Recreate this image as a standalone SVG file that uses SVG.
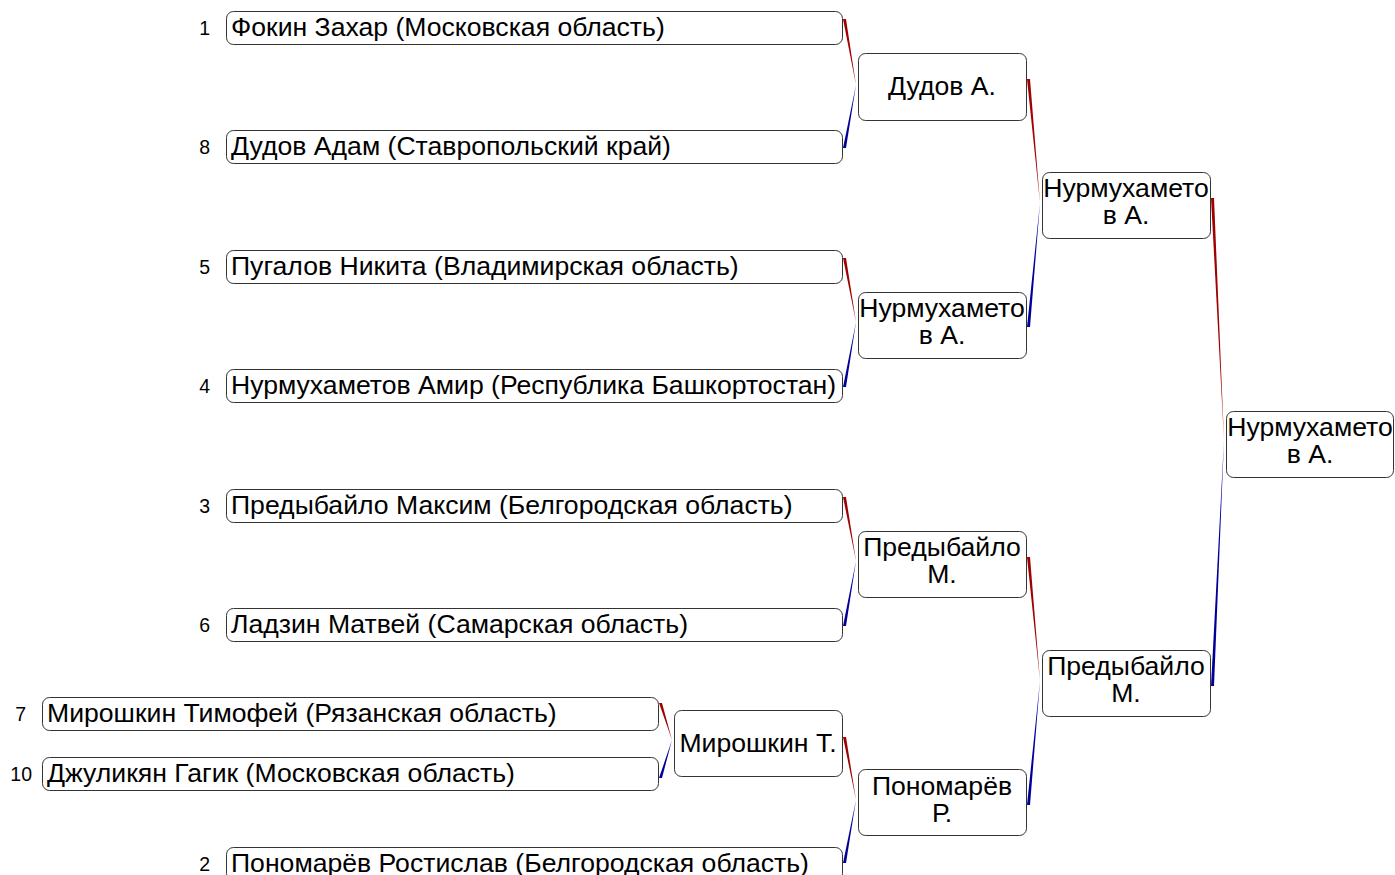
<svg xmlns="http://www.w3.org/2000/svg" width="1395" height="875" viewBox="0 0 1395 875">
<style>
.box{fill:#fff;stroke:#333;stroke-width:1}
.t{font-family:"Liberation Sans",Arial,sans-serif;font-size:26.6px;fill:#000}
.c{text-anchor:middle}
.n{font-family:"Liberation Sans",Arial,sans-serif;font-size:19.5px;fill:#000;text-anchor:end}
.r{fill:#a00000}
.b{fill:#000099}
</style>
<rect width="1395" height="875" fill="#fff"/>
<g id="connectors">
<polygon class="r" points="843,19 846,19 856,85"/>
<polygon class="b" points="843,148 846,148 856,85"/>
<polygon class="r" points="843,258 846,258 856,322"/>
<polygon class="b" points="843,387 846,387 856,322"/>
<polygon class="r" points="843,497 846,497 856,561"/>
<polygon class="b" points="843,626 846,626 856,561"/>
<polygon class="r" points="659,703 662,703 672,740"/>
<polygon class="b" points="659,778 662,778 672,740"/>
<polygon class="r" points="843,737 846,737 856,800"/>
<polygon class="b" points="843,863 846,863 856,800"/>
<polygon class="r" points="1027,79 1030,79 1040,203"/>
<polygon class="b" points="1027,327 1030,327 1040,203"/>
<polygon class="r" points="1027,557 1030,557 1040,681"/>
<polygon class="b" points="1027,805 1030,805 1040,681"/>
<polygon class="r" points="1211,198 1214,198 1224,440"/>
<polygon class="b" points="1211,686 1214,686 1224,440"/>
</g>
<g id="p1"><text class="n" x="210" y="35">1</text><rect class="box" x="226.5" y="11.5" width="616" height="33" rx="7"/><text class="t" x="231" y="36">Фокин Захар (Московская область)</text></g>
<g id="p8"><text class="n" x="210" y="154">8</text><rect class="box" x="226.5" y="130.5" width="616" height="33" rx="7"/><text class="t" x="231" y="155">Дудов Адам (Ставропольский край)</text></g>
<g id="p5"><text class="n" x="210" y="274">5</text><rect class="box" x="226.5" y="250.5" width="616" height="33" rx="7"/><text class="t" x="231" y="275">Пугалов Никита (Владимирская область)</text></g>
<g id="p4"><text class="n" x="210" y="393">4</text><rect class="box" x="226.5" y="369.5" width="616" height="33" rx="7"/><text class="t" x="231" y="394">Нурмухаметов Амир (Республика Башкортостан)</text></g>
<g id="p3"><text class="n" x="210" y="513">3</text><rect class="box" x="226.5" y="489.5" width="616" height="33" rx="7"/><text class="t" x="231" y="514">Предыбайло Максим (Белгородская область)</text></g>
<g id="p6"><text class="n" x="210" y="632">6</text><rect class="box" x="226.5" y="608.5" width="616" height="33" rx="7"/><text class="t" x="231" y="633">Ладзин Матвей (Самарская область)</text></g>
<g id="p7"><text class="n" x="26" y="721">7</text><rect class="box" x="42.5" y="697.5" width="616" height="33" rx="7"/><text class="t" x="47" y="722">Мирошкин Тимофей (Рязанская область)</text></g>
<g id="p10"><text class="n" x="32" y="781">10</text><rect class="box" x="42.5" y="757.5" width="616" height="33" rx="7"/><text class="t" x="47" y="782">Джуликян Гагик (Московская область)</text></g>
<g id="p2"><text class="n" x="210" y="871">2</text><rect class="box" x="226.5" y="847.5" width="616" height="33" rx="7"/><text class="t" x="231" y="872">Пономарёв Ростислав (Белгородская область)</text></g>
<g id="r2a"><rect class="box" x="858.5" y="53.5" width="168" height="67" rx="7"/><text class="t c" x="942" y="95">Дудов А.</text></g>
<g id="r2b"><rect class="box" x="858.5" y="292.5" width="168" height="66" rx="7"/><text class="t c" x="942" y="317">Нурмухамето</text><text class="t c" x="942" y="344">в А.</text></g>
<g id="r2c"><rect class="box" x="858.5" y="531.5" width="168" height="66" rx="7"/><text class="t c" x="942" y="556">Предыбайло</text><text class="t c" x="942" y="583">М.</text></g>
<g id="r1m"><rect class="box" x="674.5" y="710.5" width="168" height="66" rx="7"/><text class="t c" x="758" y="752">Мирошкин Т.</text></g>
<g id="r2d"><rect class="box" x="858.5" y="769.5" width="168" height="66" rx="7"/><text class="t c" x="942" y="795">Пономарёв</text><text class="t c" x="942" y="822">Р.</text></g>
<g id="r3a"><rect class="box" x="1042.5" y="172.5" width="168" height="66" rx="7"/><text class="t c" x="1126" y="197">Нурмухамето</text><text class="t c" x="1126" y="224">в А.</text></g>
<g id="r3b"><rect class="box" x="1042.5" y="650.5" width="168" height="66" rx="7"/><text class="t c" x="1126" y="675">Предыбайло</text><text class="t c" x="1126" y="702">М.</text></g>
<g id="final"><rect class="box" x="1226.5" y="411.5" width="167" height="66" rx="7"/><text class="t c" x="1310" y="436">Нурмухамето</text><text class="t c" x="1310" y="463">в А.</text></g>
</svg>
